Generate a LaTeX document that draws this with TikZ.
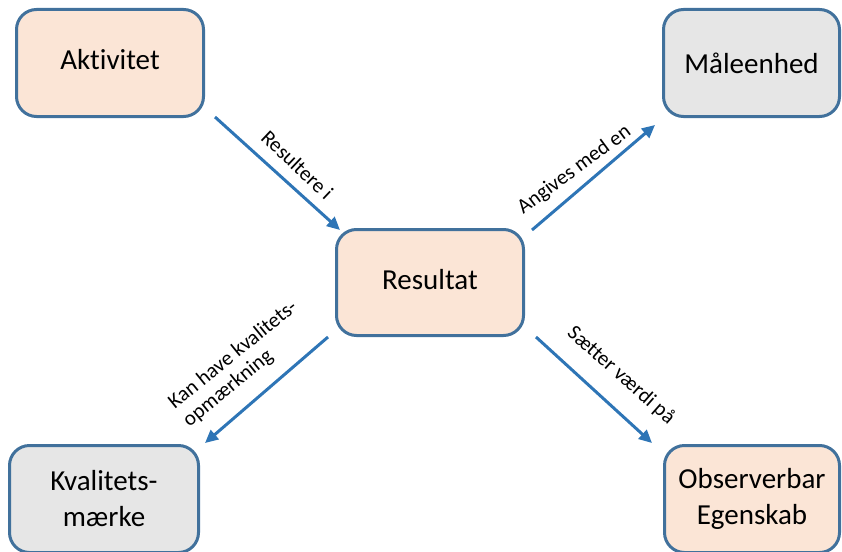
\documentclass[tikz,border=0pt]{standalone}
\usepackage{fontspec}
\setmainfont{Carlito}[Ligatures={NoCommon}]
\usetikzlibrary{arrows.meta,calc}
\definecolor{edgeblue}{HTML}{41719C}
\definecolor{arrowblue}{HTML}{2E75B6}
\definecolor{peach}{HTML}{FBE5D6}
\definecolor{lightgray}{HTML}{E6E6E6}
\tikzset{
  concept/.style={draw=edgeblue, line width=3pt, rounded corners=20pt,
    align=center, inner sep=0pt, font=\fontsize{29}{36}\selectfont},
  warm/.style={concept, fill=peach},
  cool/.style={concept, fill=lightgray},
  relation/.style={draw=arrowblue, line width=3pt,
    -{Triangle[length=13pt,width=12pt]}},
  rellabel/.style={font=\fontsize{21}{23}\selectfont, inner sep=0pt, anchor=center}
}
\begin{document}
\begin{tikzpicture}[x=1pt, y=-1pt]
  \useasboundingbox (0,0) rectangle (842,551);

  % concept boxes
  \node[warm, text depth=8pt, minimum width=187pt, minimum height=107pt] (akt) at (110,63) {Aktivitet};
  \node[cool, minimum width=176pt, minimum height=107pt] (mal) at (751.5,63) {Måleenhed};
  \node[warm, text depth=6pt, minimum width=187pt, minimum height=106pt] (res) at (430,282.5) {Resultat};
  \node[cool, minimum width=189pt, minimum height=107pt] (kval) at (104,499) {Kvalitets-\\mærke};
  \node[warm, minimum width=175pt, minimum height=107pt] (obs) at (752,499) {Observerbar\\Egenskab};

  % loose ends of the relation arrows, just off the box corners
  \coordinate (s1) at ([shift={(10,-1)}]akt.south east);
  \coordinate (e1) at ([shift={(5,2)}]res.north west);
  \coordinate (s2) at ([shift={(7,2)}]res.north east);
  \coordinate (e2) at ([shift={(-7,7)}]mal.south west);
  \coordinate (s3) at ([shift={(-7,0)}]res.south west);
  \coordinate (e3) at ([shift={(5,-1)}]kval.north east);
  \coordinate (s4) at ([shift={(11,0)}]res.south east);
  \coordinate (e4) at ([shift={(-11,-1)}]obs.north west);

  % relations between the concepts
  \draw[relation] (s1) -- (e1);
  \draw[relation] (s2) -- (e2);
  \draw[relation] (s3) -- (e3);
  \draw[relation] (s4) -- (e4);

  % relation labels
  \node[rellabel, rotate=-43.5] (l1) at ($(s1)!0.5!(e1)+(20,-8.5)$) {Resultere i};
  \node[rellabel, rotate=36.5] (l2) at ($(s2)!0.5!(e2)+(-19,-7.5)$) {Angives med en};
  \node[rellabel, rotate=39, align=left] (l3) at ($(s3)!0.5!(e3)+(-26,-26)$) {Kan have kvalitets-\\opmærkning};
  \node[rellabel, rotate=-41.5] (l4) at ($(s4)!0.5!(e4)+(27,-14.5)$) {Sætter værdi på};
\end{tikzpicture}
\end{document}
